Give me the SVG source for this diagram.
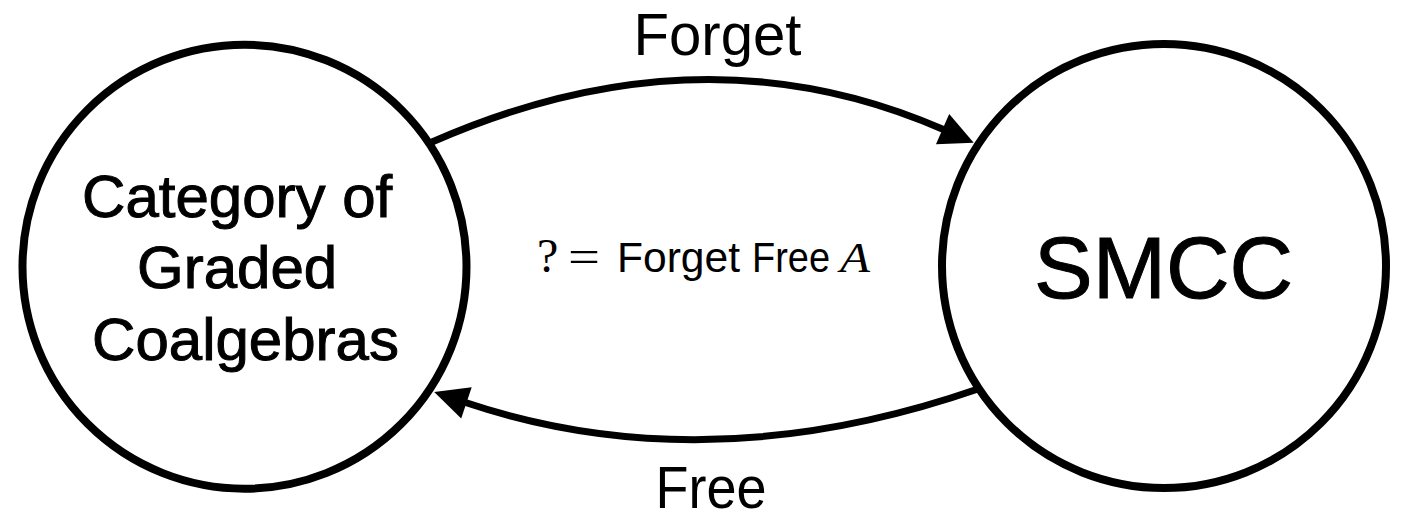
<svg xmlns="http://www.w3.org/2000/svg" width="1406" height="515" viewBox="0 0 1406 515">
  <style>
    .node { fill: #ffffff; stroke: #000000; stroke-width: 8; }
    .lbl { font-family: "Liberation Sans", Arial, Helvetica, sans-serif; fill: #000000; text-anchor: middle; }
    .nodetxt { stroke: #000000; stroke-width: 1; }
    .edge { fill: none; stroke: #000000; stroke-width: 7; }
    .serif { font-family: "Liberation Serif", "Times New Roman", serif; }
    .sans { font-family: "Liberation Sans", Arial, sans-serif; }
  </style>
  <defs>
    <marker id="arrow" markerUnits="userSpaceOnUse" markerWidth="40" markerHeight="40" refX="1" refY="16.5" orient="auto" overflow="visible">
      <path d="M0,0 L34,16.5 L0,33 Z" fill="#000000"/>
    </marker>
  </defs>
  <rect x="0" y="0" width="1406" height="515" fill="#ffffff"/>

  <g id="connectors">
    <path id="edge-forget" class="edge" d="M432,142 Q701.5,23.5 943.5,129.5" marker-end="url(#arrow)"/>
    <path id="edge-free" class="edge" d="M978,389 Q706,483 465.5,402.5" marker-end="url(#arrow)"/>
    <text class="lbl" x="717.5" y="55" font-size="59" textLength="168" lengthAdjust="spacingAndGlyphs">Forget</text>
    <text class="lbl" x="711" y="508" font-size="59" textLength="111" lengthAdjust="spacingAndGlyphs">Free</text>
    <text id="middle-label" y="271.7" font-size="42" fill="#000000"><tspan class="serif" x="537" font-size="48">?</tspan><tspan class="serif" x="568" font-size="46" textLength="32" lengthAdjust="spacingAndGlyphs">=</tspan><tspan class="sans" x="617" textLength="123" lengthAdjust="spacingAndGlyphs">Forget</tspan><tspan class="sans" x="752" textLength="78" lengthAdjust="spacingAndGlyphs">Free</tspan><tspan class="serif" x="840" font-style="italic" textLength="30" lengthAdjust="spacingAndGlyphs">A</tspan></text>
  </g>

  <g id="node-coalgebras">
    <circle class="node" cx="244.5" cy="266.7" r="222"/>
    <text class="lbl nodetxt" font-size="60">
      <tspan x="245.5" y="216.7">Category of</tspan>
      <tspan x="245.5" y="288.3">Graded</tspan>
      <tspan x="245.5" y="360">Coalgebras</tspan>
    </text>
  </g>

  <g id="node-smcc">
    <circle class="node" cx="1164" cy="266" r="222"/>
    <text class="lbl nodetxt" x="1163.5" y="297.7" font-size="88" stroke-width="2">SMCC</text>
  </g>
</svg>
